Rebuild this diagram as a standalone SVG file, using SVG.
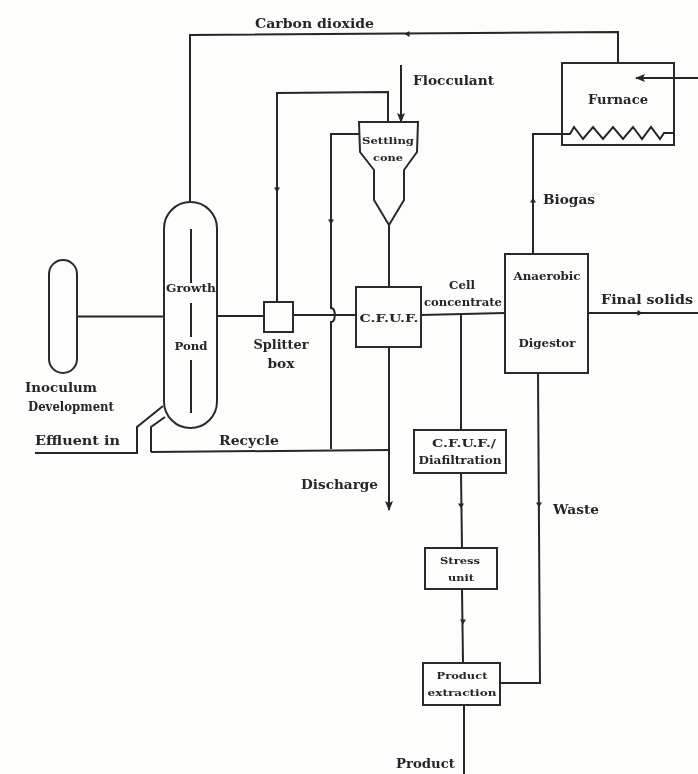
<svg xmlns="http://www.w3.org/2000/svg" width="698" height="774" viewBox="0 0 698 774">
<style>
.l{fill:none;stroke:#262626;stroke-width:2}
.n{fill:none;stroke:#2a2a2a;stroke-width:2}
.t{font-family:"DejaVu Serif","Liberation Serif",serif;font-weight:bold;fill:#262626;font-size:12.5px}
.m{font-size:11px}
.s{font-size:10px}
.a{fill:#262626;stroke:none}
</style>
<defs>
<filter id="soft" x="0" y="0" width="100%" height="100%"><feGaussianBlur stdDeviation="0.45"/></filter>
<marker id="end" markerWidth="10" markerHeight="12" refX="9" refY="4" orient="auto" markerUnits="userSpaceOnUse"><path d="M0 0L10 4L0 8L2 4Z" fill="#262626"/></marker>
<path id="tick" d="M-2.500 -3L2.500 0L-2.500 3Z"/>
</defs>
<rect width="698" height="774" fill="#fdfdfc"/>
<g filter="url(#soft)">
<g id="connectors">
<path class="l" d="M618 63V32L190 35V202"/>
<path class="l" d="M698 78H636" marker-end="url(#end)"/>
<path class="l" d="M401 65V122" marker-end="url(#end)"/>
<path class="l" d="M388 122V92L277 93V302"/>
<path class="l" d="M359 134H331V308C336 308 336 322 331 322V449"/>
<path class="l" d="M77 316.500H164"/>
<path class="l" d="M217 316H264"/>
<path class="l" d="M293 315H356"/>
<path class="l" d="M389 225V287"/>
<path class="l" d="M389 347V510" marker-end="url(#end)"/>
<path class="l" d="M151 452L389 450"/>
<path class="l" d="M151 452V427L165 417"/>
<path class="l" d="M35 453H137V427L163 406"/>
<path class="l" d="M421 315L505 313"/>
<path class="l" d="M461 315V430"/>
<path class="l" d="M461 473L462 548"/>
<path class="l" d="M462 589L463 663"/>
<path class="l" d="M464 705V774"/>
<path class="l" d="M500 683H540L538 373"/>
<path class="l" d="M533 254V134H562"/>
<path class="l" d="M588 313H698"/>
<use href="#tick" class="a" transform="translate(407 34) rotate(180)"/>
<use href="#tick" class="a" transform="translate(277 190) rotate(90)"/>
<use href="#tick" class="a" transform="translate(331 222) rotate(90)"/>
<use href="#tick" class="a" transform="translate(533 200) rotate(-90)"/>
<use href="#tick" class="a" transform="translate(640 313)"/>
<use href="#tick" class="a" transform="translate(539 505) rotate(90)"/>
<use href="#tick" class="a" transform="translate(461 506) rotate(90)"/>
<use href="#tick" class="a" transform="translate(463 622) rotate(90)"/>
</g>
<g id="inoculum"><rect class="n" x="49" y="260" width="28" height="113" rx="14"/>
<text class="t" x="61" y="392" text-anchor="middle" textLength="72" lengthAdjust="spacingAndGlyphs">Inoculum</text>
<text class="t" x="71" y="411" text-anchor="middle" textLength="86" lengthAdjust="spacingAndGlyphs">Development</text></g>
<g id="growth-pond"><rect class="n" x="164" y="202" width="53" height="226" rx="26.500"/>
<path class="l" d="M191 229V283M191 303V337M191 360V413" stroke-width="1.500"/>
<text class="t m" x="191" y="292" text-anchor="middle" textLength="50" lengthAdjust="spacingAndGlyphs">Growth</text>
<text class="t m" x="191" y="350" text-anchor="middle" textLength="33" lengthAdjust="spacingAndGlyphs">Pond</text></g>
<g id="splitter-box"><rect class="n" x="264" y="302" width="29" height="30"/>
<text class="t" x="281" y="349" text-anchor="middle" textLength="55" lengthAdjust="spacingAndGlyphs">Splitter</text>
<text class="t" x="281" y="368" text-anchor="middle" textLength="27" lengthAdjust="spacingAndGlyphs">box</text></g>
<g id="settling-cone"><path class="n" d="M359 122H418L417 152L404 170V200L389 225L374 200V170L360 152Z"/>
<text class="t s" x="388" y="144" text-anchor="middle" textLength="52" lengthAdjust="spacingAndGlyphs">Settling</text>
<text class="t s" x="388" y="161" text-anchor="middle" textLength="30" lengthAdjust="spacingAndGlyphs">cone</text></g>
<g id="cfup"><rect class="n" x="356" y="287" width="65" height="60"/>
<text class="t m" x="389" y="322" text-anchor="middle" textLength="59" lengthAdjust="spacingAndGlyphs">C.F.U.F.</text></g>
<g id="furnace"><rect class="n" x="562" y="63" width="112" height="82"/>
<path class="l" d="M562 134H570L574 127L583 139L593 127L603 139L613 127L623 139L633 127L642 139L651 127L660 139L664 133H674"/>
<text class="t" x="618" y="104" text-anchor="middle" textLength="60" lengthAdjust="spacingAndGlyphs">Furnace</text></g>
<g id="anaerobic-digestor"><rect class="n" x="505" y="254" width="83" height="119"/>
<text class="t m" x="547" y="280" text-anchor="middle" textLength="67" lengthAdjust="spacingAndGlyphs">Anaerobic</text>
<text class="t m" x="547" y="347" text-anchor="middle" textLength="57" lengthAdjust="spacingAndGlyphs">Digestor</text></g>
<g id="diafiltration"><rect class="n" x="414" y="430" width="92" height="43"/>
<text class="t m" x="464" y="447" text-anchor="middle" textLength="64" lengthAdjust="spacingAndGlyphs">C.F.U.F./</text>
<text class="t m" x="460" y="464" text-anchor="middle" textLength="83" lengthAdjust="spacingAndGlyphs">Diafiltration</text></g>
<g id="stress-unit"><rect class="n" x="425" y="548" width="72" height="41"/>
<text class="t s" x="460" y="564" text-anchor="middle" textLength="40" lengthAdjust="spacingAndGlyphs">Stress</text>
<text class="t s" x="461" y="581" text-anchor="middle" textLength="26" lengthAdjust="spacingAndGlyphs">unit</text></g>
<g id="product-extraction"><rect class="n" x="423" y="663" width="77" height="42"/>
<text class="t s" x="462" y="679" text-anchor="middle" textLength="51" lengthAdjust="spacingAndGlyphs">Product</text>
<text class="t s" x="462" y="696" text-anchor="middle" textLength="69" lengthAdjust="spacingAndGlyphs">extraction</text></g>
<g id="labels">
<text class="t" x="255" y="28" textLength="119" lengthAdjust="spacingAndGlyphs">Carbon dioxide</text>
<text class="t" x="413" y="85" textLength="81" lengthAdjust="spacingAndGlyphs">Flocculant</text>
<text class="t" x="543" y="204" textLength="52" lengthAdjust="spacingAndGlyphs">Biogas</text>
<text class="t m" x="449" y="289" textLength="26" lengthAdjust="spacingAndGlyphs">Cell</text>
<text class="t m" x="424" y="306" textLength="78" lengthAdjust="spacingAndGlyphs">concentrate</text>
<text class="t" x="601" y="304" textLength="92" lengthAdjust="spacingAndGlyphs">Final solids</text>
<text class="t" x="35" y="445" textLength="85" lengthAdjust="spacingAndGlyphs">Effluent in</text>
<text class="t" x="219" y="445" textLength="60" lengthAdjust="spacingAndGlyphs">Recycle</text>
<text class="t" x="301" y="489" textLength="77" lengthAdjust="spacingAndGlyphs">Discharge</text>
<text class="t" x="553" y="514" textLength="46" lengthAdjust="spacingAndGlyphs">Waste</text>
<text class="t" x="396" y="768" textLength="59" lengthAdjust="spacingAndGlyphs">Product</text>
</g>
</g>
</svg>
